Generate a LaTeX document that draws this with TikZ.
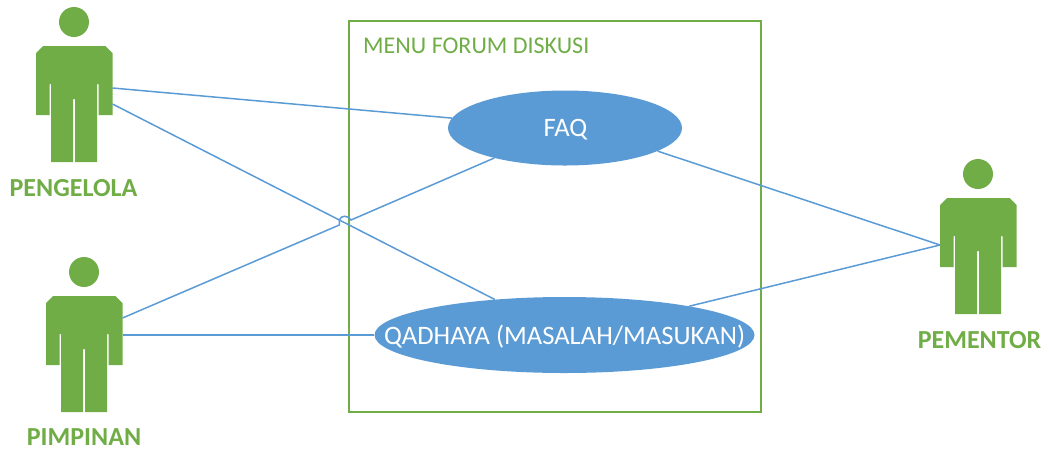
\documentclass[tikz,border=0pt]{standalone}
\usepackage{fontspec}
\setmainfont{Carlito}
\definecolor{ogreen}{HTML}{70AD47}
\definecolor{oblue}{HTML}{5B9BD5}
\usetikzlibrary{shapes.geometric}
\tikzset{
  x=1pt,y=-1pt,
  link/.style={draw=oblue,line width=1.5pt},
  usecase/.style={ellipse,fill=oblue,text=white,inner ysep=0pt,inner xsep=-80pt,text depth=0pt,font=\fontsize{26.6}{30}\selectfont},
  actorlabel/.style={text=ogreen,font=\fontsize{26}{30}\selectfont\bfseries,inner sep=0pt},
  actorbody/.style={rectangle,inner sep=0pt,minimum width=76.5pt,minimum height=116pt},
  actor/.pic={
    \fill[ogreen] (0,-24) circle[radius=15];
    \fill[ogreen] (-31,0) -- (31.5,0) -- (38.5,7) -- (38.5,69) -- (24.5,69) -- (24.5,38) -- (23,38) -- (23,116) -- (1,116) -- (1,53) -- (-1,53) -- (-1,116) -- (-23,116) -- (-23,38) -- (-24.5,38) -- (-24.5,69) -- (-38,69) -- (-38,7) -- cycle;
  }
}
\begin{document}
\begin{tikzpicture}
\useasboundingbox (0,0) rectangle (1049,451);
\node[draw=ogreen,line width=1.5pt,rectangle,inner sep=0pt,outer sep=0pt,minimum width=412pt,minimum height=391pt,anchor=north west] (menu) at (349,21) {};
\node[text=ogreen,anchor=west,inner sep=0pt,font=\fontsize{24}{28}\selectfont] (menulabel) at (363,46) {MENU FORUM DISKUSI};

\node[usecase,minimum width=234pt,minimum height=75pt,inner xsep=0pt] (faq) at (565,128) {\hspace{1pt}FAQ};
\node[usecase,minimum width=380pt,minimum height=76pt] (qadhaya) at (564.5,335) {QADHAYA (MASALAH/MASUKAN)};

\node[actorbody] (pengelola) at (74,104) {};
\node[actorbody] (pimpinan) at (84,354) {};
\node[actorbody] (pementor) at (978,256) {};
\pic at (74,46) {actor};
\pic at (84,296) {actor};
\pic at (978,198) {actor};
\node[actorlabel] (l1) at (73.5,188.5) {PENGELOLA};
\node[actorlabel] (l2) at (84,437.5) {PIMPINAN};
\node[actorlabel] (l3) at (979.5,340) {PEMENTOR};

\coordinate (p1) at (112.5,88);
\coordinate (p2) at (112.5,104);
\coordinate (q1) at (122.5,318);
\coordinate (q2) at (122.5,335);
\coordinate (r1) at (940,245);
\coordinate (j1) at (339.3,225);
\coordinate (j2) at (339.3,220);
\coordinate (j3) at (351,220);
\coordinate (jt1) at (341,215);
\coordinate (jt2) at (348,215);

\draw[link] (p1) -- (faq.175.5);
\draw[link] (p2) -- (qadhaya.153);
\draw[link] (q1) -- (j1) -- (j2) .. controls (jt1) and (jt2) .. (j3) -- (faq.203);
\draw[link] (q2) -- (qadhaya.west);
\draw[link] (faq.-14.7) -- (r1);
\draw[link] (qadhaya.13.2) -- (r1);
\end{tikzpicture}
\end{document}
